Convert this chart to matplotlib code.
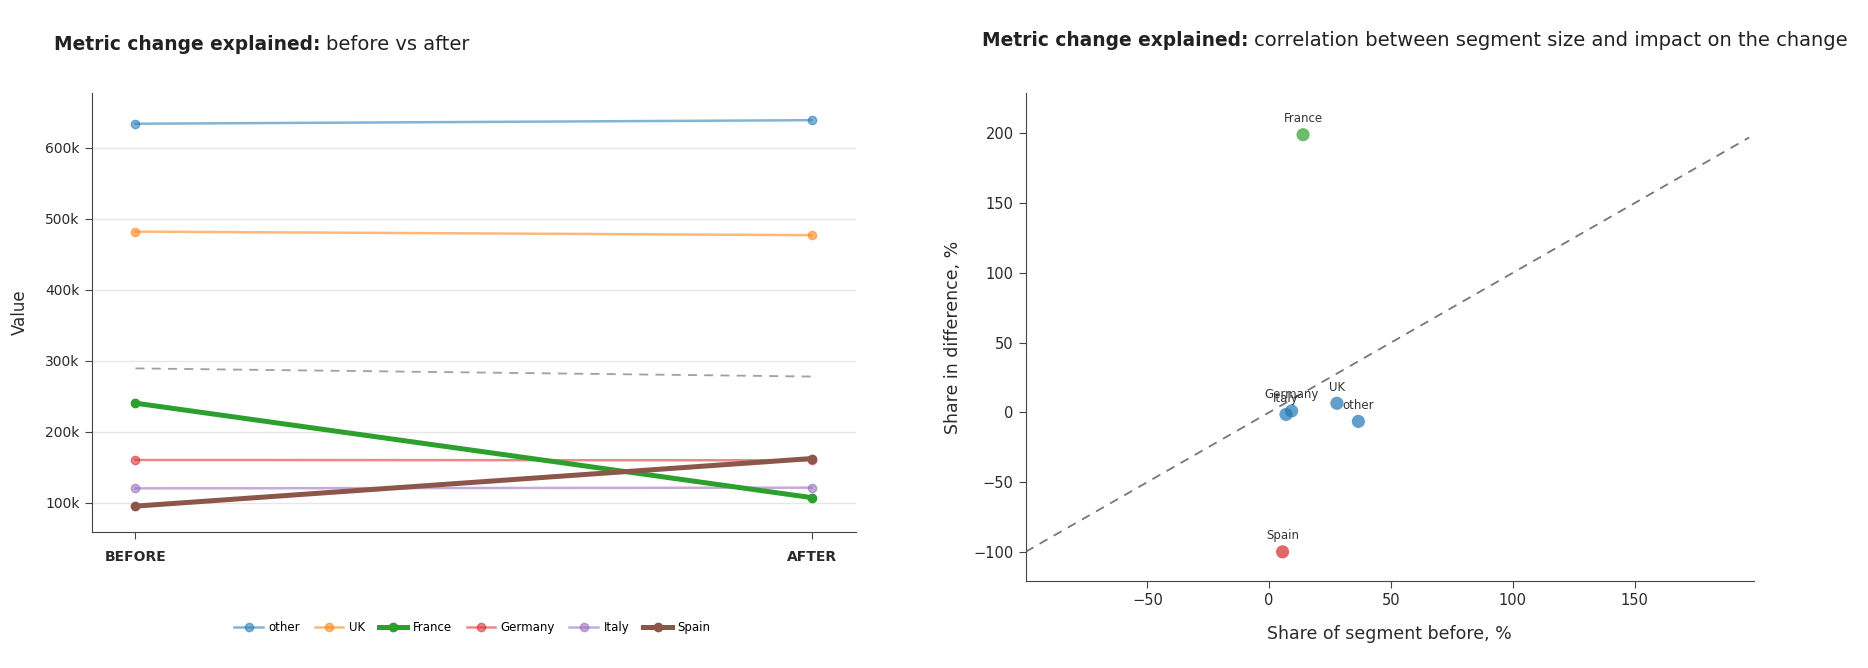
import numpy as np
import matplotlib
matplotlib.use("Agg")
import matplotlib.pyplot as plt

plt.rcParams['font.family'] = ['DejaVu Sans']

segments = ["other", "UK", "France", "Germany", "Italy", "Spain"]
before = [633500, 481600, 240000, 160000, 120000, 95000]
after = [638500, 476600, 107000, 159500, 121000, 162000]
avg_before = 289000
avg_after = 277500
periods = ["BEFORE", "AFTER"]

# scatter data: share of segment before vs share in difference
share_before = [36.6, 27.8, 13.9, 9.2, 6.9, 5.5]
share_diff = [-6.5, 6.5, 199.0, 1.0, -1.5, -100.0]
diag = [-100, 197]

line_colors = ['#1f77b4', '#ff7f0e', '#2ca02c', '#d62728', '#9467bd', '#8c564b']
highlight = ["France", "Spain"]
dot_colors = {"France": '#2ca02c', "Spain": '#d62728'}

fig = plt.figure(figsize=(18.68, 6.68), dpi=100, facecolor='white')


def two_part_title(x, y, bold, rest):
    t = fig.text(x, y, bold, fontsize=13.4, fontweight='bold', va='center', ha='left', color='#222222')
    fig.canvas.draw()
    bb = t.get_window_extent()
    x2 = (bb.x1 + 6) / fig.bbox.width
    fig.text(x2, y, rest, fontsize=14, va='center', ha='left', color='#222222')


# ── left: before vs after ────────────────────────────────────────────────────
ax1 = fig.add_axes([0.049, 0.203, 0.409, 0.658])
xs = np.arange(len(periods))
for name, b, a, c in zip(segments, before, after, line_colors):
    if name in highlight:
        ax1.plot(xs, [b, a], 'o-', color=c, linewidth=3.6, markersize=6, label=name, zorder=3)
    else:
        ax1.plot(xs, [b, a], 'o-', color=c, alpha=0.55, linewidth=1.8, markersize=6, label=name, zorder=2)
ax1.plot(xs, [avg_before, avg_after], '--', color='#a0a0a0', linewidth=1.3, dashes=(5, 4), zorder=1)

ax1.set_xlim(-0.065, 1.065)
ax1.set_ylim(58000, 677000)
ax1.set_xticks(xs)
ax1.set_xticklabels(periods, fontweight='bold', fontsize=10, color='#2a2a2a')
ax1.set_yticks([100000, 200000, 300000, 400000, 500000, 600000])
ax1.set_yticklabels(["100k", "200k", "300k", "400k", "500k", "600k"], fontsize=10, color='#2a2a2a')
ax1.set_ylabel("Value", fontsize=12, color='#2a2a2a', labelpad=12)
ax1.grid(True, axis='y', color='#e6e6e6', linewidth=1)
ax1.set_axisbelow(True)
for s in ['top', 'right']:
    ax1.spines[s].set_visible(False)
for s in ['left', 'bottom']:
    ax1.spines[s].set_color('#444444')
ax1.tick_params(axis='both', color='#444444', length=5)
ax1.tick_params(axis='x', pad=8)

fig.legend(*ax1.get_legend_handles_labels(), loc='center', bbox_to_anchor=(0.253, 0.06),
           ncol=6, frameon=False, fontsize=8.5, handlelength=2.4, columnspacing=1.2,
           handletextpad=0.5)

# ── right: segment size vs impact ────────────────────────────────────────────
ax2 = fig.add_axes([0.549, 0.130, 0.390, 0.731])
ax2.plot(diag, diag, '--', color='#777777', linewidth=1.3, dashes=(5, 4), zorder=1)
for name, x, y in zip(segments, share_before, share_diff):
    c = dot_colors.get(name, '#1f77b4')
    ax2.scatter(x, y, s=90, color=c, alpha=0.7, edgecolors='none', zorder=3)
    ax2.annotate(name, (x, y), xytext=(0, 7), textcoords='offset points',
                 ha='center', va='bottom', fontsize=8.5, color='#333333')

ax2.set_xlim(-100, 199)
ax2.set_ylim(-121, 229)
ax2.set_xticks([-50, 0, 50, 100, 150])
ax2.set_xticklabels(["\u221250", "0", "50", "100", "150"])
ax2.set_yticks([-100, -50, 0, 50, 100, 150, 200])
ax2.set_yticklabels(["\u2212100", "\u221250", "0", "50", "100", "150", "200"])
ax2.tick_params(axis='both', labelsize=10.5, color='#444444', labelcolor='#2a2a2a', length=5)
ax2.set_xlabel("Share of segment before, %", fontsize=12.5, color='#2a2a2a', labelpad=12)
ax2.set_ylabel("Share in difference, %", fontsize=12.5, color='#2a2a2a', labelpad=8)
for s in ['top', 'right']:
    ax2.spines[s].set_visible(False)
for s in ['left', 'bottom']:
    ax2.spines[s].set_color('#444444')

two_part_title(0.0287, 0.934, "Metric change explained:", "before vs after")
two_part_title(0.5255, 0.939, "Metric change explained:",
               "correlation between segment size and impact on the change")

fig.savefig("out.png", dpi=100, facecolor='white')
